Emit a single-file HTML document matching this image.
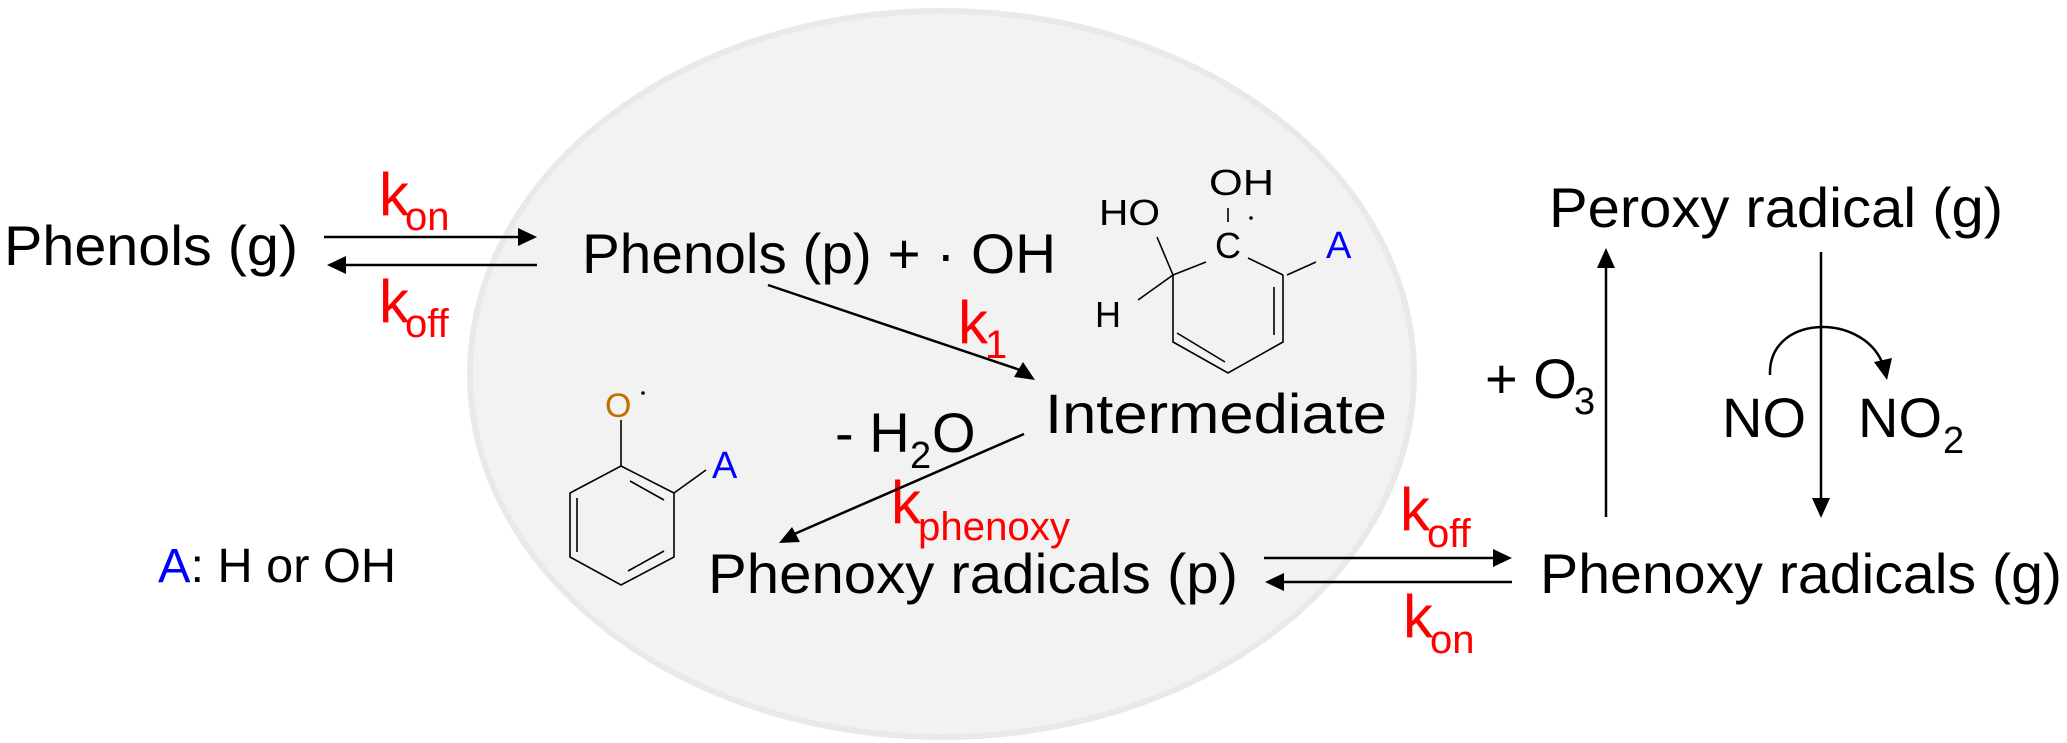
<!DOCTYPE html>
<html><head><meta charset="utf-8"><style>
html,body{margin:0;padding:0;background:#fff;}
svg{display:block;}
text{font-family:"Liberation Sans",sans-serif;}
</style></head><body>
<svg width="2067" height="743" viewBox="0 0 2067 743" xmlns="http://www.w3.org/2000/svg">
<ellipse cx="942" cy="374" rx="472" ry="363" fill="#f2f2f2" stroke="#e9e9e9" stroke-width="6"/>

<g font-size="56" fill="#000">
<text x="4" y="265" textLength="294" lengthAdjust="spacingAndGlyphs">Phenols (g)</text>
<text x="582" y="273" textLength="474" lengthAdjust="spacingAndGlyphs">Phenols (p) + · OH</text>
<text x="1045" y="433" textLength="342" lengthAdjust="spacingAndGlyphs">Intermediate</text>
<text x="708" y="593" textLength="530" lengthAdjust="spacingAndGlyphs">Phenoxy radicals (p)</text>
<text x="1540" y="593" textLength="522" lengthAdjust="spacingAndGlyphs">Phenoxy radicals (g)</text>
<text x="1549" y="227" textLength="454" lengthAdjust="spacingAndGlyphs">Peroxy radical (g)</text>
<text x="1485" y="398">+ O</text>
<text x="1574" y="414" font-size="38">3</text>
<text x="835" y="452">- H</text>
<text x="910" y="468" font-size="38">2</text>
<text x="932" y="452">O</text>
<text x="1722" y="437">NO</text>
<text x="1858" y="437">NO</text>
<text x="1943" y="453" font-size="38">2</text>
<text x="158" y="582" font-size="48" textLength="238" lengthAdjust="spacingAndGlyphs"><tspan fill="#0000ff">A</tspan>: H or OH</text>
</g>

<g fill="#ff0000">
<text x="379" y="215" font-size="60">k</text><text x="405" y="230" font-size="40">on</text>
<text x="379" y="322" font-size="60">k</text><text x="405" y="337" font-size="40">off</text>
<text x="958" y="343" font-size="60">k</text><text x="985" y="358" font-size="40">1</text>
<text x="891" y="523" font-size="60">k</text><text x="918" y="540" font-size="40" textLength="152" lengthAdjust="spacingAndGlyphs">phenoxy</text>
<text x="1400" y="530" font-size="60">k</text><text x="1427" y="547" font-size="40">off</text>
<text x="1403" y="637" font-size="60">k</text><text x="1430" y="653" font-size="40">on</text>
</g>

<g stroke="#000" stroke-width="2.5" fill="none">
<line x1="324" y1="237" x2="520" y2="237"/>
<line x1="344" y1="265" x2="537" y2="265"/>
<line x1="768" y1="285" x2="1020" y2="370"/>
<line x1="1024" y1="434" x2="792" y2="535"/>
<line x1="1264" y1="558" x2="1496" y2="558"/>
<line x1="1282" y1="582" x2="1512" y2="582"/>
<line x1="1606" y1="517" x2="1606" y2="264"/>
<line x1="1821" y1="252" x2="1821" y2="502"/>
<path d="M1770 375 C1768 315 1860 312 1882 362"/>
</g>
<g fill="#000">
<polygon points="537,237 518,228 518,246"/>
<polygon points="327,265 346,256 346,274"/>
<polygon points="1035,380 1014,377 1023,362"/>
<polygon points="779,543 792,527 800,542"/>
<polygon points="1512,558 1493,549 1493,567"/>
<polygon points="1265,582 1284,573 1284,591"/>
<polygon points="1606,248 1597,268 1615,268"/>
<polygon points="1821,518 1812,498 1830,498"/>
<polygon points="1887,380 1874,362 1892,358"/>
</g>

<!-- phenoxy radical structure -->
<g stroke="#000" stroke-width="1.6" fill="none">
<line x1="621" y1="420" x2="621" y2="466"/>
<polygon points="621,466 674,493 674,557 621,585 570,557 570,493"/>
<line x1="664" y1="500" x2="630" y2="481"/>
<line x1="577" y1="498" x2="577" y2="552"/>
<line x1="664" y1="551" x2="628" y2="571"/>
<line x1="674" y1="493" x2="706" y2="470"/>
</g>
<text x="605" y="417" font-size="34" fill="#c07000">O</text>
<circle cx="643" cy="393" r="1.8" fill="#000"/>
<text x="712" y="478" font-size="38" fill="#0000ff">A</text>

<!-- intermediate structure -->
<g stroke="#000" stroke-width="1.6" fill="none">
<line x1="1228" y1="208" x2="1228" y2="222"/>
<line x1="1206" y1="262" x2="1173" y2="275"/>
<line x1="1248" y1="258" x2="1283" y2="275"/>
<line x1="1157" y1="237" x2="1173" y2="275"/>
<line x1="1138" y1="300" x2="1173" y2="275"/>
<line x1="1287" y1="275" x2="1316" y2="262"/>
<polyline points="1173,275 1173,342 1228,373 1283,342 1283,275"/>
<line x1="1274" y1="287" x2="1274" y2="335"/>
<line x1="1177" y1="333" x2="1225" y2="362"/>
</g>
<g font-size="36" fill="#000">
<text x="1099" y="225" textLength="61" lengthAdjust="spacingAndGlyphs">HO</text>
<text x="1209" y="195" textLength="65" lengthAdjust="spacingAndGlyphs">OH</text>
<text x="1215" y="258">C</text>
<text x="1095" y="327">H</text>
</g>
<circle cx="1251" cy="218" r="1.8" fill="#000"/>
<text x="1326" y="258" font-size="38" fill="#0000ff">A</text>
</svg>
</body></html>
